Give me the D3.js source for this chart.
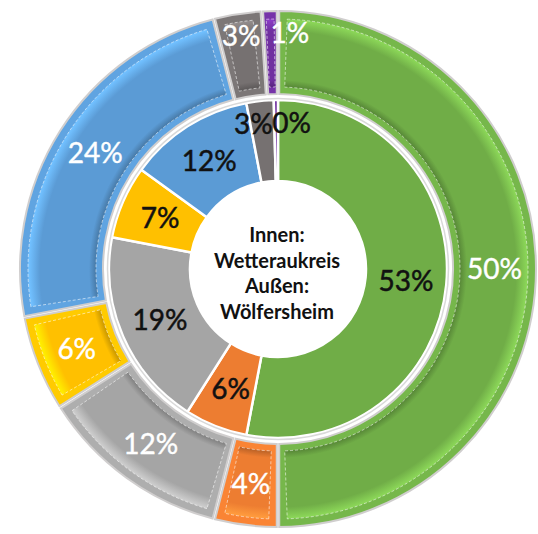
<!DOCTYPE html>
<html>
  <head>
    <meta charset="utf-8">
    <script src="https://d3js.org/d3.v7.min.js"></script>
    <title>Wetteraukreis / Wölfersheim</title>
    <style>
      body {
        margin: 0px;
        background: #fff;
      }
    </style>
  </head>
  <body>
    <svg width="538" height="534"></svg>
    <script>
      const categories = ['grün', 'orange', 'grau', 'gelb', 'blau', 'dunkelgrau', 'lila'];
      const innerValues = [53, 6, 19, 7, 12, 2.6, 0.4];   // Wetteraukreis
      const outerValues = [50, 4, 12, 6, 24, 3, 1];       // Wölfersheim
      const centerLines = ['Innen:', 'Wetteraukreis', 'Außen:', 'Wölfersheim'];
      const colors = ['#70ad47', '#ed7d31', '#a5a5a5', '#ffc000', '#5b9bd5', '#767171', '#7030a0'];

      const svg = d3.select('svg');
      const cx = 278, cy = 269;
      const r0 = 88, r1 = 169, r2 = 175, r3 = 258;

      const color = d3.scaleOrdinal().domain(categories).range(colors);

      const pie = d3.pie().sort(null).value(d => d.value);
      const innerData = pie(categories.map((c, i) => ({ cat: c, value: innerValues[i] })));
      const outerData = pie(categories.map((c, i) => ({ cat: c, value: outerValues[i] })));

      const defs = svg.append('defs');
      categories.forEach(c => {
        const base = d3.color(color(c));
        const g = defs.append('radialGradient')
          .attr('id', 'bev-' + c)
          .attr('gradientUnits', 'userSpaceOnUse')
          .attr('cx', 0).attr('cy', 0).attr('r', r3);
        g.append('stop').attr('offset', (r2 + 7) / r3).attr('stop-color', base.darker(0.7));
        g.append('stop').attr('offset', (r2 + 14) / r3).attr('stop-color', base);
        g.append('stop').attr('offset', (r3 - 20) / r3).attr('stop-color', base);
        g.append('stop').attr('offset', (r3 - 9) / r3).attr('stop-color', base.brighter(0.6));
      });

      const g = svg.append('g')
          .attr('transform', `translate(${cx}, ${cy})`);

      // inner ring, flat
      const innerArc = d3.arc().innerRadius(r0).outerRadius(r1);
      g.append('g').selectAll('path').data(innerData)
        .enter().append('path')
          .attr('d', innerArc)
          .attr('fill', d => color(d.data.cat))
          .attr('stroke', '#fff')
          .attr('stroke-width', 2.5);

      g.append('circle')
          .attr('r', r1 + 1.5)
          .attr('fill', 'none')
          .attr('stroke', '#d9d9d9')
          .attr('stroke-width', 1.5);

      // outer ring, bevelled
      const outerArc = d3.arc().innerRadius(r2).outerRadius(r3).padAngle(0.008);
      const panelArc = d3.arc().innerRadius(r2 + 7).outerRadius(r3 - 8);
      const outerG = g.append('g');
      outerG.selectAll('path.seg').data(outerData)
        .enter().append('path')
          .attr('class', 'seg')
          .attr('d', outerArc)
          .attr('fill', d => d3.color(color(d.data.cat)).brighter(0.15))
          .attr('stroke', '#d0cece')
          .attr('stroke-width', 2);

      outerG.selectAll('path.panel').data(outerData)
        .enter().append('path')
          .attr('class', 'panel')
          .attr('d', d => {
            const m = 8 / ((r2 + r3) / 2);
            const s = d.startAngle + Math.min(m, (d.endAngle - d.startAngle) / 4);
            const e = d.endAngle - Math.min(m, (d.endAngle - d.startAngle) / 4);
            return panelArc({ startAngle: s, endAngle: e });
          })
          .attr('fill', d => `url(#bev-${d.data.cat})`)
          .attr('stroke', '#fff')
          .attr('stroke-opacity', 0.55)
          .attr('stroke-dasharray', '3,2')
          .attr('stroke-width', 1);

      // labels
      const fmt = v => Math.round(v) + '%';
      const labelPos = (d, r) => {
        const a = (d.startAngle + d.endAngle) / 2;
        return [Math.sin(a) * r, -Math.cos(a) * r];
      };

      // small slices at the top sit further out; the tiny last one starts at its centre
      g.append('g').selectAll('text').data(innerData)
        .enter().append('text')
          .attr('x', d => labelPos(d, d.value < 5 ? 146 : (r0 + r1) / 2)[0] + (d.index === 5 ? -9 : 0) + (d.index === 6 ? -4 : 0))
          .attr('y', d => labelPos(d, d.value < 5 ? 146 : (r0 + r1) / 2)[1])
          .attr('dy', '0.36em')
          .attr('text-anchor', d => d.index === 6 ? 'start' : 'middle')
          .style('font-family', 'Lato, sans-serif')
          .style('font-size', '28px')
          .style('fill', '#111')
          .style('stroke', '#111')
          .style('stroke-width', 0.5)
          .text(d => fmt(d.value));

      g.append('g').selectAll('text').data(outerData)
        .enter().append('text')
          .attr('x', d => labelPos(d, d.value <= 3 ? 236 : (r2 + r3) / 2)[0])
          .attr('y', d => labelPos(d, d.value <= 3 ? 236 : (r2 + r3) / 2)[1])
          .attr('dy', '0.36em')
          .attr('text-anchor', d => d.index === 6 ? 'start' : 'middle')
          .style('font-family', 'Lato, sans-serif')
          .style('font-size', '28px')
          .style('fill', '#fff')
          .style('stroke', '#fff')
          .style('stroke-width', 0.4)
          .text(d => fmt(d.value));

      g.append('text')
          .attr('text-anchor', 'middle')
          .style('font-family', 'Lato, sans-serif')
          .style('font-weight', 'bold')
          .style('font-size', '20px')
          .style('fill', '#111')
        .selectAll('tspan').data(centerLines)
        .enter().append('tspan')
          .attr('x', -1)
          .attr('y', (d, i) => -27 + i * 25.7)
          .text(d => d);
    </script>
  </body>
</html>
